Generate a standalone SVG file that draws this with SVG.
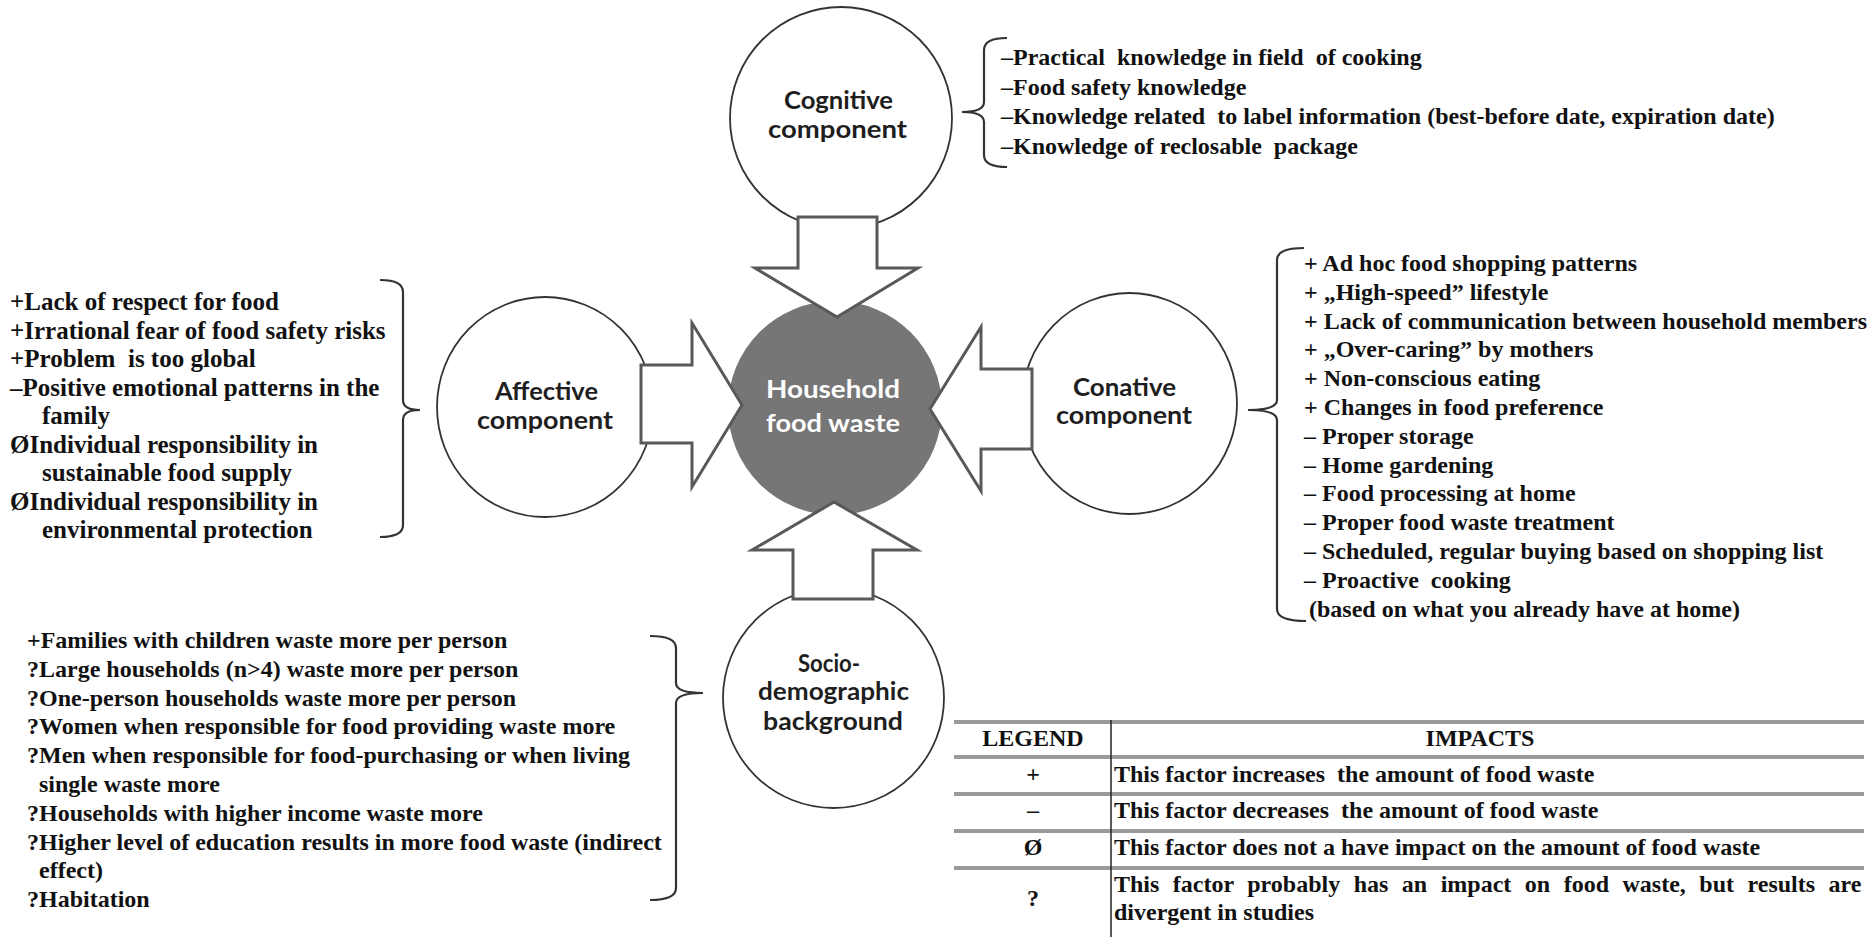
<svg xmlns="http://www.w3.org/2000/svg" width="1875" height="937" viewBox="0 0 1875 937">
<style>
.bg{fill:#ffffff}
.comp{fill:#ffffff;stroke:#333333;stroke-width:1.8}
.core{fill:#767676;stroke:none}
.arrow{fill:#ffffff;stroke:#595959;stroke-width:3;stroke-linejoin:miter}
.brace{fill:none;stroke:#333333;stroke-width:2.2}
.lbl{font-family:Lato,"Liberation Sans",sans-serif;font-size:25px;font-weight:bold;fill:#1e1e1e}
.lblw{font-family:Lato,"Liberation Sans",sans-serif;font-size:25px;font-weight:bold;fill:#ffffff}
.t{font-family:"Liberation Serif","Times New Roman",serif;font-weight:bold;font-size:24px;fill:#111111}
.ta{font-family:"Liberation Serif","Times New Roman",serif;font-weight:bold;font-size:25px;fill:#111111}
.rule{stroke:#9a9a9a;stroke-width:4}
.vline{stroke:#222222;stroke-width:1.5}
</style>
<rect class="bg" x="0" y="0" width="1875" height="937"/>

<g id="node-center">
<circle class="core" cx="835" cy="408" r="107"/>
<text class="lblw" x="766" y="398" textLength="134" lengthAdjust="spacingAndGlyphs">Household</text>
<text class="lblw" x="766" y="432" textLength="134" lengthAdjust="spacingAndGlyphs">food waste</text>
</g>

<g id="node-cognitive">
<ellipse class="comp" cx="841" cy="118" rx="111" ry="111"/>
<text class="lbl" x="784" y="109" textLength="109" lengthAdjust="spacingAndGlyphs">Cognitive</text>
<text class="lbl" x="768" y="138" textLength="139" lengthAdjust="spacingAndGlyphs">component</text>
</g>

<g id="node-affective">
<ellipse class="comp" cx="545" cy="407" rx="108" ry="110"/>
<text class="lbl" x="495" y="400" textLength="103" lengthAdjust="spacingAndGlyphs">Affective</text>
<text class="lbl" x="477" y="429" textLength="136" lengthAdjust="spacingAndGlyphs">component</text>
</g>

<g id="node-conative">
<ellipse class="comp" cx="1129.5" cy="403.5" rx="107.5" ry="110.5"/>
<text class="lbl" x="1073" y="396" textLength="103" lengthAdjust="spacingAndGlyphs">Conative</text>
<text class="lbl" x="1056" y="424" textLength="136" lengthAdjust="spacingAndGlyphs">component</text>
</g>

<g id="node-socio">
<ellipse class="comp" cx="833.5" cy="698" rx="110.5" ry="110"/>
<text class="lbl" x="798" y="672" textLength="62" lengthAdjust="spacingAndGlyphs">Socio-</text>
<text class="lbl" x="758" y="700" textLength="151" lengthAdjust="spacingAndGlyphs">demographic</text>
<text class="lbl" x="763" y="730" textLength="140" lengthAdjust="spacingAndGlyphs">background</text>
</g>

<g id="connectors">
<polygon class="arrow" points="798,217 877,217 877,268 918,268 837,317 755,268 798,268"/>
<polygon class="arrow" points="641,365 692,365 692,323 742,405 692,487 692,443 641,443"/>
<polygon class="arrow" points="1032,369 981,369 981,327 930,409 981,491 981,449 1032,449"/>
<polygon class="arrow" points="793,599 873,599 873,550 917,550 834,502 752,550 793,550"/>
<path class="brace" d="M1007,38 Q984,38 984,50 L984,102 Q984,112 962,112 Q984,112 984,122 L984,155 Q984,167 1007,167"/>
<path class="brace" d="M380,280 Q403,280 403,292 L403,400 Q403,410 420,410 Q403,410 403,420 L403,525 Q403,537 380,537"/>
<path class="brace" d="M1304,248 Q1277,248 1277,260 L1277,400 Q1277,410 1248,410 Q1277,410 1277,420 L1277,609 Q1277,621 1306,621"/>
<path class="brace" d="M650,636 Q676,636 676,648 L676,683 Q676,693 703,693 Q676,693 676,703 L676,888 Q676,900 650,900"/>
</g>

<g id="list-cognitive">
<text class="t" x="1001" y="65">–Practical&#160; knowledge in field&#160; of cooking</text>
<text class="t" x="1001" y="94.5">–Food safety knowledge</text>
<text class="t" x="1001" y="124">–Knowledge related&#160; to label information (best-before date, expiration date)</text>
<text class="t" x="1001" y="153.5">–Knowledge of reclosable&#160; package</text>
</g>

<g id="list-affective">
<text class="ta" x="10" y="310">+Lack of respect for food</text>
<text class="ta" x="10" y="338.5">+Irrational fear of food safety risks</text>
<text class="ta" x="10" y="367">+Problem&#160; is too global</text>
<text class="ta" x="10" y="395.5">–Positive emotional patterns in the</text>
<text class="ta" x="42" y="424">family</text>
<text class="ta" x="10" y="452.5">ØIndividual responsibility in</text>
<text class="ta" x="42" y="481">sustainable food supply</text>
<text class="ta" x="10" y="509.5">ØIndividual responsibility in</text>
<text class="ta" x="42" y="538">environmental protection</text>
</g>

<g id="list-conative">
<text class="t" x="1304" y="271">+ Ad hoc food shopping patterns</text>
<text class="t" x="1304" y="299.8">+ „High-speed” lifestyle</text>
<text class="t" x="1304" y="328.6">+ Lack of communication between household members</text>
<text class="t" x="1304" y="357.4">+ „Over-caring” by mothers</text>
<text class="t" x="1304" y="386.2">+ Non-conscious eating</text>
<text class="t" x="1304" y="415">+ Changes in food preference</text>
<text class="t" x="1304" y="443.8">– Proper storage</text>
<text class="t" x="1304" y="472.6">– Home gardening</text>
<text class="t" x="1304" y="501.4">– Food processing at home</text>
<text class="t" x="1304" y="530.2">– Proper food waste treatment</text>
<text class="t" x="1304" y="559">– Scheduled, regular buying based on shopping list</text>
<text class="t" x="1304" y="587.8">– Proactive&#160; cooking</text>
<text class="t" x="1309" y="616.6">(based on what you already have at home)</text>
</g>

<g id="list-socio">
<text class="t" x="27" y="648">+Families with children waste more per person</text>
<text class="t" x="27" y="676.8">?Large households (n&gt;4) waste more per person</text>
<text class="t" x="27" y="705.6">?One-person households waste more per person</text>
<text class="t" x="27" y="734.4">?Women when responsible for food providing waste more</text>
<text class="t" x="27" y="763.2">?Men when responsible for food-purchasing or when living</text>
<text class="t" x="39" y="792">single waste more</text>
<text class="t" x="27" y="820.8">?Households with higher income waste more</text>
<text class="t" x="27" y="849.6">?Higher level of education results in more food waste (indirect</text>
<text class="t" x="39" y="878.4">effect)</text>
<text class="t" x="27" y="907.2">?Habitation</text>
</g>

<g id="legend">
<line class="rule" x1="954" y1="722" x2="1864" y2="722"/>
<line class="rule" x1="954" y1="757" x2="1864" y2="757"/>
<line class="rule" x1="954" y1="794" x2="1864" y2="794"/>
<line class="rule" x1="954" y1="831" x2="1864" y2="831"/>
<line class="rule" x1="954" y1="868" x2="1864" y2="868"/>
<line class="vline" x1="1111" y1="720" x2="1111" y2="937"/>
<text class="t" x="1033" y="746" text-anchor="middle">LEGEND</text>
<text class="t" x="1480" y="746" text-anchor="middle">IMPACTS</text>
<text class="t" x="1033" y="782" text-anchor="middle">+</text>
<text class="t" x="1114" y="782">This factor increases&#160; the amount of food waste</text>
<text class="t" x="1033" y="818" text-anchor="middle">–</text>
<text class="t" x="1114" y="818">This factor decreases&#160; the amount of food waste</text>
<text class="t" x="1033" y="855" text-anchor="middle">Ø</text>
<text class="t" x="1114" y="855">This factor does not a have impact on the amount of food waste</text>
<text class="t" x="1033" y="906" text-anchor="middle">?</text>
<text class="t" x="1114" y="892" word-spacing="7.5">This factor probably has an impact on food waste, but results are</text>
<text class="t" x="1114" y="920">divergent in studies</text>
</g>
</svg>
